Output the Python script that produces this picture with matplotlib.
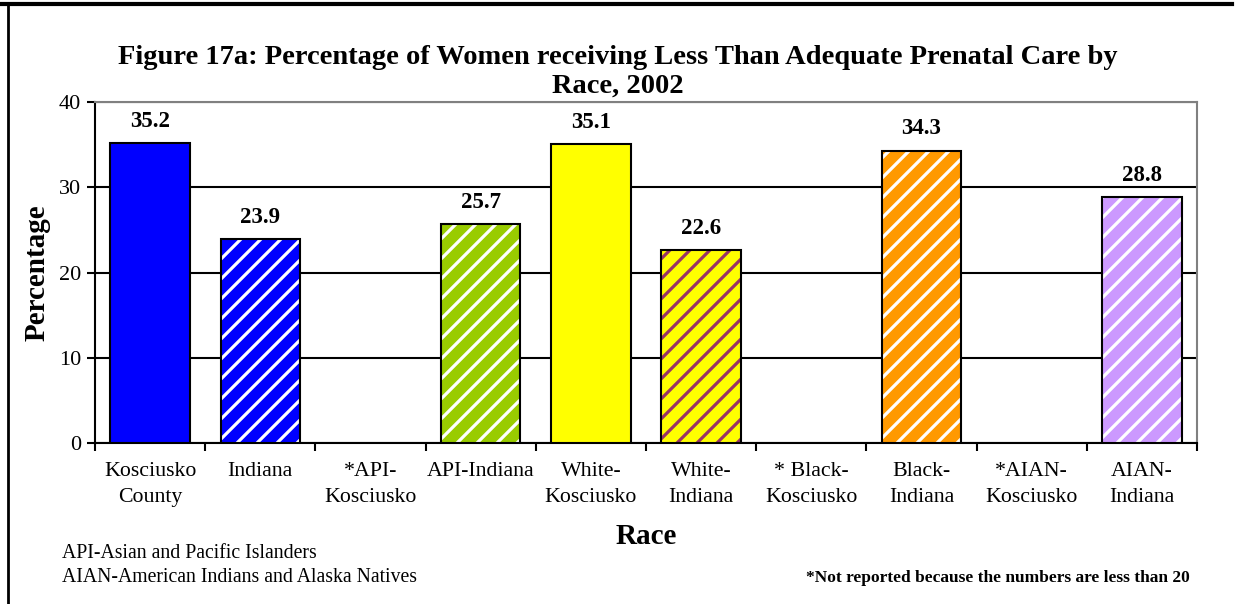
import matplotlib
matplotlib.use("Agg")
import matplotlib.pyplot as plt
from matplotlib.lines import Line2D
import numpy as np

categories = ["Kosciusko\nCounty", "Indiana", "*API-\nKosciusko", "API-Indiana",
              "White-\nKosciusko", "White-\nIndiana", "* Black-\nKosciusko",
              "Black-\nIndiana", "*AIAN-\nKosciusko", "AIAN-\nIndiana"]
values = [35.2, 23.9, None, 25.7, 35.1, 22.6, None, 34.3, None, 28.8]
face_colors = ["#0000FF", "#0000FF", None, "#99CC00", "#FFFF00", "#FFFF00",
               None, "#FF9900", None, "#CC99FF"]
stripe_colors = [None, "#FFFFFF", None, "#FFFFFF", None, "#993366",
                 None, "#FFFFFF", None, "#FFFFFF"]

DPI = 120
S = 100 / DPI  # sizes below are given as points at 100 dpi

def P(v):
    return v * S

plt.rcParams['font.family'] = ['Liberation Serif', 'DejaVu Serif']
plt.rcParams['hatch.linewidth'] = P(2.3)

fig = plt.figure(figsize=(1235 / DPI, 604 / DPI), dpi=DPI)
ax = fig.add_axes([95/1235, 1-443/604, (1197-95)/1235, (443-102)/604])

x = np.arange(len(categories))
width = 0.72
for i, v in enumerate(values):
    if v is None:
        continue
    if stripe_colors[i] is None:
        ax.bar(x[i], v, width, color=face_colors[i], edgecolor="black",
               linewidth=P(1.5), zorder=3)
    else:
        ax.bar(x[i], v, width, color=face_colors[i], edgecolor=stripe_colors[i],
               hatch="//", linewidth=0, zorder=3)
        ax.bar(x[i], v, width, fill=False, edgecolor="black", linewidth=P(1.5),
               zorder=4)
    ax.annotate(f"{v:.1f}", (x[i], v), xytext=(0, P(8)), textcoords="offset points",
                ha="center", va="bottom", fontsize=P(16.5), fontweight="bold")

ax.set_xlim(-0.5, len(categories) - 0.5)
ax.set_ylim(0, 40)
ax.set_yticks([0, 10, 20, 30, 40])
ax.tick_params(axis="y", labelsize=P(16), length=P(6), width=P(1.5), direction="out",
               color="black", pad=P(4))
ax.set_xticks(x)
ax.set_xticklabels(categories, fontsize=P(15.75), linespacing=1.45)
ax.tick_params(axis="x", which="major", length=0, pad=P(14))
ax.set_xticks(np.arange(-0.5, len(categories), 1.0), minor=True)
ax.tick_params(axis="x", which="minor", length=P(6), width=P(1.5), direction="out")

ax.yaxis.grid(True, color="black", linewidth=P(1.5), zorder=0)
ax.set_axisbelow(True)
ax.spines["left"].set_linewidth(P(1.5))
ax.spines["bottom"].set_linewidth(P(1.5))
ax.spines["top"].set_color("#808080")
ax.spines["right"].set_color("#808080")
ax.spines["top"].set_linewidth(P(1.5))
ax.spines["right"].set_linewidth(P(1.5))

ax.set_xlabel("Race", fontsize=P(21), fontweight="bold", labelpad=P(12))
ax.set_ylabel("Percentage", fontsize=P(21), fontweight="bold", labelpad=P(6))

fig.text(0.5, 1 - 57/604, "Figure 17a: Percentage of Women receiving Less Than Adequate Prenatal Care by",
         ha="center", va="center", fontsize=P(20.5), fontweight="bold")
fig.text(0.5, 1 - 86/604, "Race, 2002", ha="center", va="center",
         fontsize=P(20.5), fontweight="bold")

fig.text(62/1235, 1 - 553/604, "API-Asian and Pacific Islanders",
         ha="left", va="center", fontsize=P(14.2))
fig.text(62/1235, 1 - 578/604, "AIAN-American Indians and Alaska Natives",
         ha="left", va="center", fontsize=P(14.2))
fig.text(1190/1235, 1 - 578/604, "*Not reported because the numbers are less than 20",
         ha="right", va="center", fontsize=P(12.5), fontweight="bold")

fig.add_artist(Line2D([0, 1232/1235], [1 - 4/604, 1 - 4/604], color="black",
                      linewidth=P(3), transform=fig.transFigure))
fig.add_artist(Line2D([8/1235, 8/1235], [0, 1 - 4/604], color="black",
                      linewidth=P(2), transform=fig.transFigure))

fig.savefig("out.png", dpi=DPI)
